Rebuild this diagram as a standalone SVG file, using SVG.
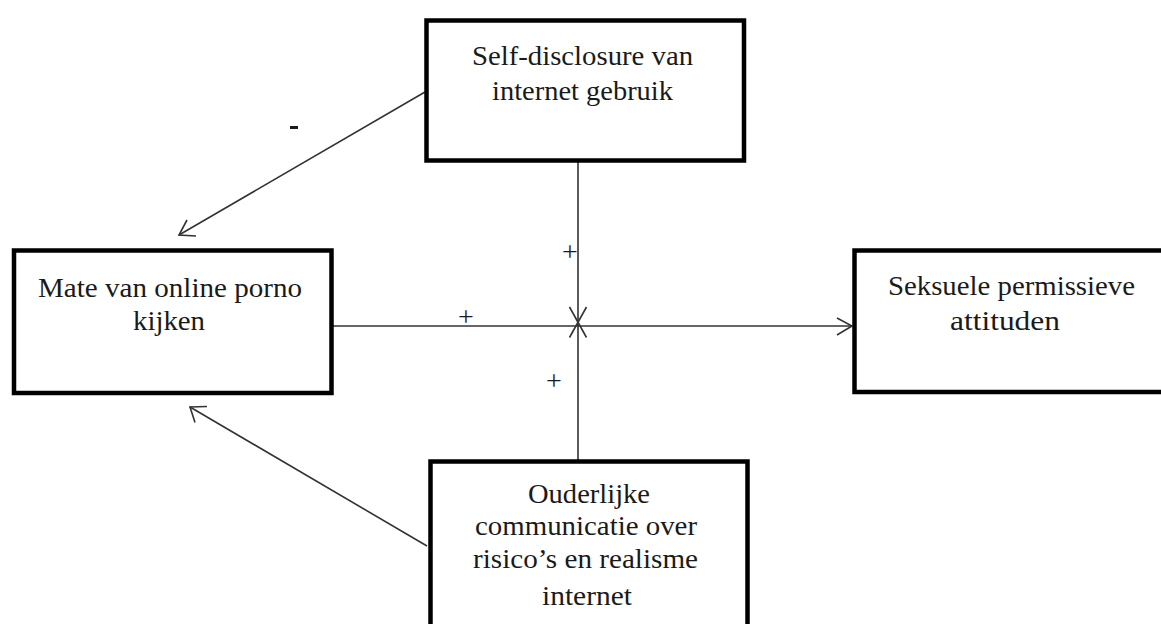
<svg xmlns="http://www.w3.org/2000/svg" width="1161" height="624" viewBox="0 0 1161 624">
  <style>
    .box { fill: #ffffff; stroke: #000000; stroke-width: 4.5; }
    .lbl { font-family: "Liberation Serif", "Times New Roman", serif; font-size: 27px; fill: #1a1a1a; text-anchor: middle; }
    .edge { stroke: #333333; stroke-width: 1.6; fill: none; }
    .sign { font-family: "Liberation Serif", "Times New Roman", serif; font-size: 28px; fill: #1a1a1a; text-anchor: middle; }
  </style>
  <rect width="1161" height="624" fill="#ffffff"/>
  <g id="connectors">
    <line class="edge" x1="578" y1="160" x2="578" y2="461"/>
    <line class="edge" x1="332" y1="326" x2="852" y2="326"/>
    <polyline class="edge" points="837,318 852,326 837,335"/>
    <line class="edge" x1="569.5" y1="307" x2="586.5" y2="337.5"/>
    <line class="edge" x1="586.5" y1="307" x2="569.5" y2="337.5"/>
    <line class="edge" x1="425" y1="92" x2="179" y2="235"/>
    <polyline class="edge" points="187,220 179,235 196,236"/>
    <line class="edge" x1="427" y1="546" x2="190" y2="407"/>
    <polyline class="edge" points="207,406.5 190,407 195,422.5"/>
    <rect x="290" y="126" width="8" height="3" fill="#1a1a1a"/>
    <text class="sign" x="570" y="261">+</text>
    <text class="sign" x="466" y="326">+</text>
    <text class="sign" x="554" y="390">+</text>
  </g>
  <g id="node-self-disclosure">
    <rect class="box" x="426.5" y="20.5" width="317.5" height="140"/>
    <text class="lbl" x="582.5" y="65" textLength="221" lengthAdjust="spacingAndGlyphs">Self-disclosure van</text>
    <text class="lbl" x="582.5" y="100" textLength="181" lengthAdjust="spacingAndGlyphs">internet gebruik</text>
  </g>
  <g id="node-mate">
    <rect class="box" x="14" y="250.5" width="317.5" height="142.5"/>
    <text class="lbl" x="170" y="297" textLength="264" lengthAdjust="spacingAndGlyphs">Mate van online porno</text>
    <text class="lbl" x="169" y="330" textLength="72" lengthAdjust="spacingAndGlyphs">kijken</text>
  </g>
  <g id="node-seksuele">
    <rect class="box" x="854.5" y="250.5" width="320" height="141.5"/>
    <text class="lbl" x="1011.5" y="295" textLength="247" lengthAdjust="spacingAndGlyphs">Seksuele permissieve</text>
    <text class="lbl" x="1005" y="330" textLength="110" lengthAdjust="spacingAndGlyphs">attituden</text>
  </g>
  <g id="node-ouderlijke">
    <rect class="box" x="430.5" y="461.5" width="317" height="200"/>
    <text class="lbl" x="589" y="503" textLength="122" lengthAdjust="spacingAndGlyphs">Ouderlijke</text>
    <text class="lbl" x="586" y="535" textLength="222" lengthAdjust="spacingAndGlyphs">communicatie over</text>
    <text class="lbl" x="585.5" y="568" textLength="225" lengthAdjust="spacingAndGlyphs">risico’s en realisme</text>
    <text class="lbl" x="587" y="605" textLength="90" lengthAdjust="spacingAndGlyphs">internet</text>
  </g>
</svg>
